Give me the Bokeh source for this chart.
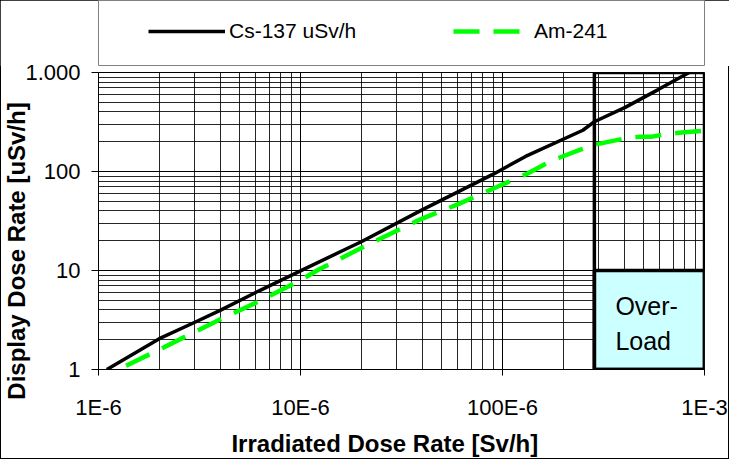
from bokeh.plotting import figure
from bokeh.layouts import column
from bokeh.models import FixedTicker, Legend, LegendItem, Label
from bokeh.embed import file_html
from bokeh.resources import INLINE

# ---- data ----
cs_x = [1.1e-6, 2e-6, 3e-6, 4e-6, 6.2e-6, 1e-5, 1.65e-5, 2e-5, 4e-5, 9e-5,
        1.3e-4, 2.5e-4, 2.83e-4, 4.05e-4, 5.9e-4, 8.4e-4]
cs_y = [1.0, 2.05, 3.0, 3.95, 6.2, 9.9, 16.2, 19.5, 41, 94,
        142, 261, 316, 444, 672, 1000]

am_x = [1.37e-6, 2.1e-6, 3.9e-6, 6.2e-6, 1.0e-5, 1.22e-5, 2e-5, 3.9e-5, 6e-5, 1e-4,
        1.31e-4, 1.77e-4, 2.43e-4, 2.83e-4, 4.05e-4, 4.8e-4, 5.5e-4, 6.4e-4, 7.7e-4, 1e-3]
am_y = [1.09, 1.67, 3.13, 4.86, 8.0, 10.1, 16.9, 32.7, 46.5, 74,
        94, 130, 166, 186, 216, 225, 225, 238, 248, 258]

series_names = ["Cs-137 uSv/h", "Am-241"]
series_colors = ["black", "#00FF00"]
series_widths = [3.5, 4.5]
series_dashes = ["solid", "26 14"]

x_ticks = [1e-6, 1e-5, 1e-4, 1e-3]
x_tick_labels = ["1E-6", "10E-6", "100E-6", "1E-3"]
y_ticks = [1, 10, 100, 1000]
y_tick_labels = ["1", "10", "100", "1.000"]

overload_x = [2.85e-4, 1e-3]
overload_y = [1, 10, 1000]
overload_text = ["Over-", "Load"]
overload_text_y = [4.37, 1.93]

x_title = "Irradiated Dose Rate [Sv/h]"
y_title = "Display Dose Rate [uSv/h]"

NBSP = "\u00a0"
FONT = "Liberation Sans"
NAN = float("nan")

W, H = 729, 459
H_LEG = 66

# ---- legend strip (its frame is the legend box); the chart overlaps it ----
pl = figure(width=W, height=H_LEG, x_range=(0, 1), y_range=(0, 1),
            output_backend="svg", toolbar_location=None,
            min_border_left=97, min_border_right=18, min_border_top=0, min_border_bottom=1)
pl.axis.visible = False
pl.grid.visible = False
pl.outline_line_color = "#808080"
pl.outline_line_width = 1
pl.background_fill_color = "white"
pl.border_fill_color = "white"
leg_renderers = []
for c, w, d in zip(series_colors, series_widths, series_dashes):
    # legend samples only: a single missing point, nothing is drawn in the strip
    leg_renderers.append(pl.line(x=[NAN], y=[NAN], line_color=c, line_width=w, line_dash=d))
legend = Legend(items=[LegendItem(label=n, renderers=[r]) for n, r in zip(series_names, leg_renderers)],
                location=(50, 22), orientation="horizontal",
                glyph_width=77, glyph_height=20, label_standoff=4, label_width=130,
                label_height=22, spacing=94, padding=0, margin=0,
                border_line_alpha=0, background_fill_alpha=0,
                label_text_font=FONT, label_text_font_size="21px", label_text_color="black")
pl.add_layout(legend)

# ---- main chart ----
p = figure(width=W, height=H, x_axis_type="log", y_axis_type="log",
           x_range=(x_ticks[0], x_ticks[-1]), y_range=(y_ticks[0], y_ticks[-1]),
           output_backend="svg", toolbar_location=None,
           min_border_left=97, min_border_right=25, min_border_top=72, min_border_bottom=87)
p.background_fill_color = "white"
p.border_fill_color = None
p.outline_line_color = "black"
p.outline_line_width = 1
p.styles = {"margin-top": f"-{H_LEG}px"}


def minors(ticks):
    out = []
    for t in ticks[:-1]:
        for m in range(2, 10):
            out.append(t * m)
    return out


p.xaxis.ticker = FixedTicker(ticks=x_ticks, minor_ticks=minors(x_ticks))
p.yaxis.ticker = FixedTicker(ticks=y_ticks, minor_ticks=minors(y_ticks))
p.xaxis.major_label_overrides = {t: l for t, l in zip(x_ticks, x_tick_labels)}
p.yaxis.major_label_overrides = {t: l for t, l in zip(y_ticks, y_tick_labels)}

for ax in (p.xaxis, p.yaxis):
    ax.axis_line_color = "black"
    ax.axis_line_width = 1
    ax.major_tick_line_color = "black"
    ax.major_tick_in = 0
    ax.minor_tick_in = 0
    ax.minor_tick_out = 0
    ax.major_label_text_font = FONT
    ax.major_label_text_font_size = "22px"
    ax.major_label_text_color = "black"
    ax.axis_label_text_font = FONT
    ax.axis_label_text_font_style = "bold"
    ax.axis_label_text_font_size = "24px"
    ax.axis_label_text_color = "black"
p.xaxis.major_tick_out = 6
p.yaxis.major_tick_out = 7
p.xaxis.major_label_standoff = 19
p.yaxis.major_label_standoff = 11

# axis titles (trailing no-break spaces shift them off-centre as in the original)
p.xaxis.axis_label = x_title + NBSP * 5
p.yaxis.axis_label = y_title + NBSP * 9
p.xaxis.axis_label_standoff = 7
p.yaxis.axis_label_standoff = -8

for g in (p.xgrid, p.ygrid):
    g.grid_line_color = "black"
    g.grid_line_width = 1
    g.minor_grid_line_color = "black"
    g.minor_grid_line_width = 1
    g.minor_grid_line_alpha = 0.85

# overload area (lower filled part)
p.quad(left=[overload_x[0]], right=[overload_x[1]], bottom=[overload_y[0]], top=[overload_y[1]],
       fill_color="#CCFFFF", line_color="black", line_width=3.5)

p.line(cs_x, cs_y, line_color=series_colors[0], line_width=series_widths[0])
p.line(am_x, am_y, line_color=series_colors[1], line_width=series_widths[1],
       line_dash=series_dashes[1])

# overload frame
p.quad(left=[overload_x[0]], right=[overload_x[1]], bottom=[overload_y[0]], top=[overload_y[2]],
       fill_alpha=0, line_color="black", line_width=3.5)

for txt, ty in zip(overload_text, overload_text_y):
    p.add_layout(Label(x=overload_x[0], y=ty, x_offset=21, text=txt,
                       text_font=FONT, text_font_size="25px",
                       text_baseline="alphabetic", text_color="black"))

layout = column(pl, p, spacing=0,
                styles={"outline": "1px solid black", "outline-offset": "-1px"})

open("out.html", "w").write(file_html(layout, INLINE))
